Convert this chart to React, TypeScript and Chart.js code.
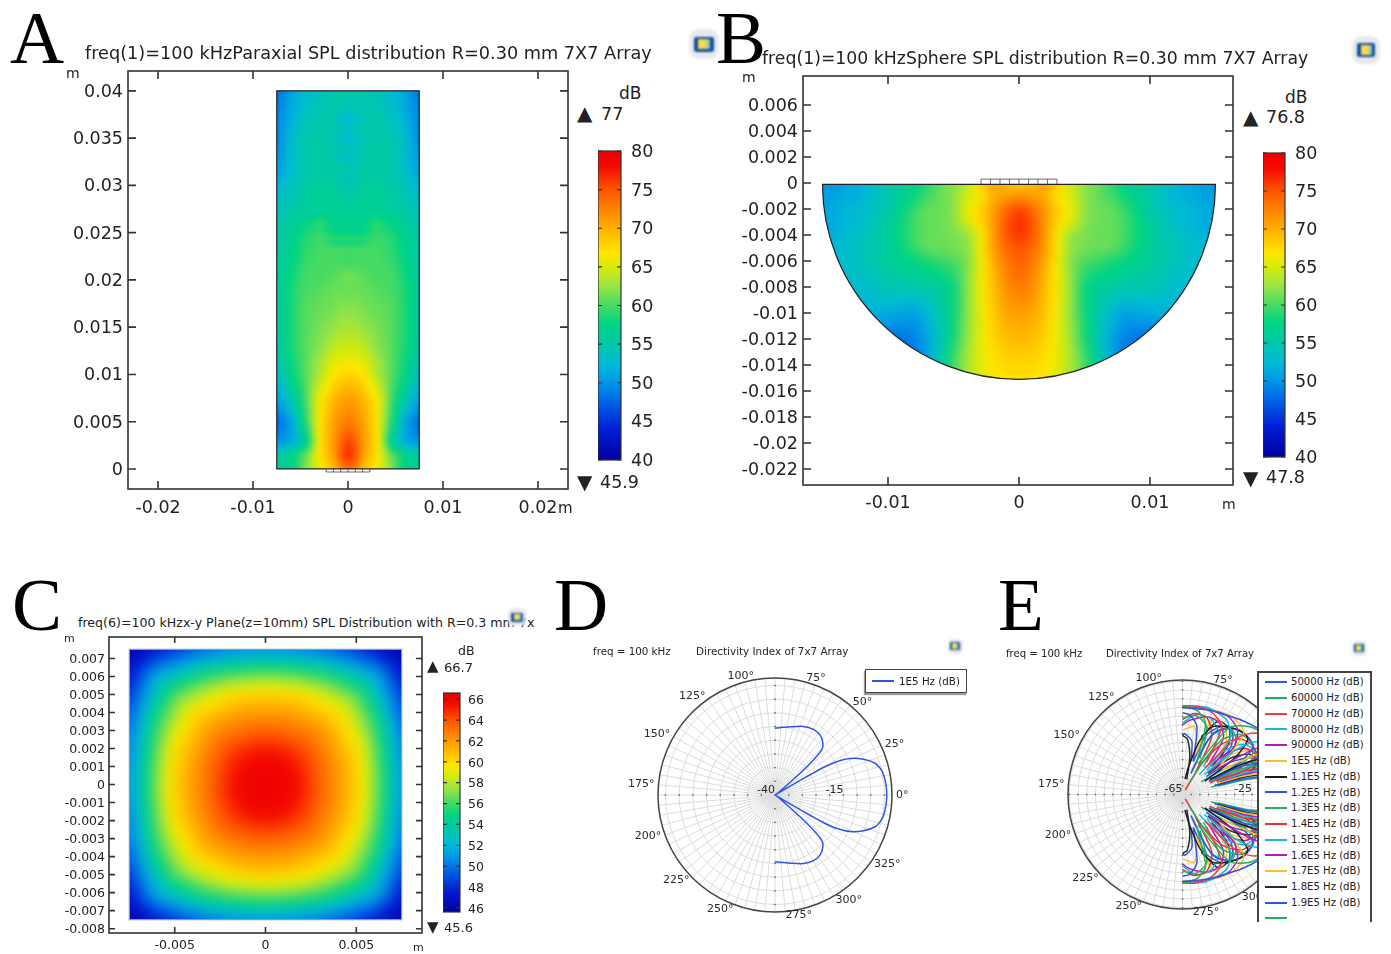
import React, { useEffect, useRef } from "react";
import { Chart, registerables } from "chart.js";
Chart.register(...registerables);

const FONT = "'DejaVu Sans'";

// ---------- colour map ----------
const cmapStops = [0, 0.1, 0.2, 0.25, 0.31, 0.375, 0.44, 0.5, 0.56, 0.625, 0.67, 0.75, 0.875, 0.95, 1];
const cmapColors = [
  [0, 0, 160], [0, 30, 215], [0, 110, 230], [0, 150, 230], [0, 185, 215], [0, 200, 170], [0, 212, 130], [70, 218, 100],
  [150, 228, 70], [215, 235, 10], [255, 230, 0], [255, 175, 0], [255, 85, 0], [245, 10, 0], [235, 0, 0],
];
function cmap(t: number) {
  const c = Math.max(0, Math.min(1, t));
  let i = 0;
  while (i < cmapStops.length - 2 && c > cmapStops[i + 1]) i++;
  const f = (c - cmapStops[i]) / (cmapStops[i + 1] - cmapStops[i]);
  return cmapColors[i].map((v, k) => v + (cmapColors[i + 1][k] - v) * f);
}

// ---------- panel A ----------
const aXTicks = [-0.02, -0.01, 0, 0.01, 0.02];
const aYTicks = [0, 0.005, 0.01, 0.015, 0.02, 0.025, 0.03, 0.035, 0.04];
const aColX = [0, 0.0008, 0.0015, 0.003, 0.0045, 0.006, 0.0075];
const aRowY = [0, 0.0015, 0.003, 0.005, 0.0075, 0.01, 0.0115, 0.013, 0.015, 0.017, 0.019, 0.0205, 0.022, 0.0235, 0.024, 0.0245, 0.025, 0.026, 0.027, 0.03, 0.031, 0.032, 0.033, 0.034, 0.035, 0.036, 0.037, 0.038, 0.04];
const aSPL = [
  [74, 72, 69, 66, 62, 57, 56],
  [77, 75, 71, 67, 61, 57, 55.5],
  [76, 74, 71.5, 67, 56, 51, 49.5],
  [73, 72, 71, 67, 59, 51, 47.5],
  [71, 70.5, 69.5, 66.5, 60, 55, 50.5],
  [68, 67.5, 67, 63.5, 60.5, 57.5, 53.5],
  [66, 65.8, 65.5, 63, 60.5, 58, 54.5],
  [64.5, 64.5, 64, 62, 60.5, 58.5, 55],
  [63, 63, 62.5, 61.5, 60.5, 58.5, 55.5],
  [62, 62, 61.5, 61, 60.5, 58.5, 55.5],
  [61, 61, 61, 60.5, 60, 58.5, 55.5],
  [61.5, 61, 60.5, 60, 60, 58, 55.5],
  [59.5, 60, 60, 60, 59.5, 57.5, 55.5],
  [60, 60, 60, 60, 59, 57, 55.5],
  [57.5, 57.5, 58, 59.5, 59, 57, 55.5],
  [59.5, 59.5, 59.5, 60, 59, 56.5, 55],
  [57, 57, 57.5, 59, 58.5, 56.5, 55],
  [57, 57, 57, 59.5, 57.5, 56, 54.5],
  [56.5, 56.5, 56.5, 56.5, 56, 55.5, 54],
  [54.5, 55, 56, 56, 55.5, 54, 52],
  [53.5, 54.5, 55.5, 55.5, 55, 53.5, 51],
  [55, 55, 55.5, 55.5, 55, 53, 50.5],
  [52.5, 53.5, 55, 55.5, 55, 53, 50],
  [54.5, 54.5, 55, 55.5, 55, 53, 49.5],
  [52, 53, 54.5, 55, 55, 53, 49],
  [54, 54.5, 55, 55, 54.5, 52.5, 49],
  [52, 53, 54.5, 55, 54, 52, 49],
  [54, 54.5, 55, 54.5, 53.5, 51.5, 49],
  [55, 55, 55, 54, 53, 51, 48],
];
const aBarTicks = [40, 45, 50, 55, 60, 65, 70, 75, 80];

// ---------- panel B ----------
const bXTicks = [-0.01, 0, 0.01];
const bYTicks = [0.006, 0.004, 0.002, 0, -0.002, -0.004, -0.006, -0.008, -0.01, -0.012, -0.014, -0.016, -0.018, -0.02, -0.022];
const bColX = [0, 0.001, 0.002, 0.003, 0.004, 0.005, 0.006, 0.007, 0.008, 0.01, 0.012, 0.015];
const bRowDepth = [0, 0.001, 0.002, 0.003, 0.004, 0.005, 0.006, 0.008, 0.01, 0.012, 0.0135, 0.0152];
const bSPL = [
  [68, 69, 71, 68, 64, 62, 61, 59, 57, 55, 52, 50],
  [72, 71, 70, 66, 65, 62, 61, 60, 58, 55, 52, 50.5],
  [76, 74, 71, 68, 66, 62, 61, 61, 59.5, 55, 53, 51],
  [77, 75, 71, 67.5, 65, 62, 61, 61, 60, 56, 53, 51],
  [76.5, 75, 71, 66, 62, 61.5, 61, 61, 60, 56, 54, 51],
  [75, 74, 71, 66, 62, 61.5, 61, 61, 59.5, 56, 54, 52],
  [74.5, 73, 70, 65.5, 61.5, 60, 59.5, 58.5, 57.5, 56, 54, 52],
  [73, 72, 69, 66, 62, 58, 56, 55.5, 55, 54.5, 53, 52],
  [71, 70.5, 68.5, 65.5, 62, 58, 55, 52.5, 50.5, 51.5, 52, 52],
  [69.5, 69, 68, 65.5, 62.5, 58.5, 54.5, 51, 49, 47.5, 50, 51],
  [68, 68, 67, 65.5, 63, 60, 55.5, 51, 48, 47.5, 50, 51],
  [67, 67, 66.5, 65.5, 63, 60, 55.5, 51, 48, 48, 50, 51],
];
const bBarTicks = [40, 45, 50, 55, 60, 65, 70, 75, 80];

// ---------- panel C ----------
const cXTicks = [-0.005, 0, 0.005];
const cYTicks = [0.007, 0.006, 0.005, 0.004, 0.003, 0.002, 0.001, 0, -0.001, -0.002, -0.003, -0.004, -0.005, -0.006, -0.007, -0.008];
const cAxis = [0, 0.001, 0.002, 0.003, 0.004, 0.005, 0.006, 0.007, 0.0075];
const cSPL = [
  [66.6, 66.3, 65.3, 63.7, 62, 60.5, 57.3, 53, 51],
  [66.3, 66, 65, 63.5, 61.9, 60.3, 57.1, 52.9, 50.8],
  [65.3, 65, 64.3, 63, 61.5, 60, 56.7, 52.5, 50.5],
  [63.7, 63.5, 63, 62.2, 60.8, 58.9, 56, 52, 50],
  [62, 61.9, 61.5, 60.8, 60, 57.7, 55, 51, 49.3],
  [60.5, 60.3, 60, 58.9, 57.7, 56.5, 53.2, 50, 48.5],
  [57.3, 57.1, 56.7, 56, 55, 53.2, 52, 48.8, 47.5],
  [53, 52.9, 52.5, 52, 51, 50, 48.8, 47.3, 46.5],
  [51, 50.8, 50.5, 50, 49.3, 48.5, 47.5, 46.5, 45.8],
];
const cBarTicks = [46, 48, 50, 52, 54, 56, 58, 60, 62, 64, 66];

// ---------- polar panels ----------
const angleLabels = [0, 25, 50, 75, 100, 125, 150, 175, 200, 225, 250, 275, 300, 325];
const spokeAngles = Array.from({ length: 72 }, (_, i) => i * 5);
const dRings = [-35, -30, -25, -20, -15, -10, -5, 0];
const eRings = [-60, -55, -50, -45, -40, -35, -30, -25, -20, -15, -10, -5, 0];

// panel D: [angle deg, dB], upper half; the lower half mirrors it
const d1E5: number[][] = [
  [90, -15.6], [77.5, -14.5], [67.5, -12.9], [59.7, -12.2], [53, -12.6], [47, -14.3], [44, -16.3], [42.4, -21], [41, -27.9], [36, -38],
  [33, -40], [31, -36.5], [30.3, -31], [30, -25.2], [29.6, -19.5], [28.4, -14.4], [26, -9.5], [22, -5.1], [17.6, -1.6], [14, -0.3], [11.3, 0.3], [5.6, 0.7], [0, 0.85],
];

// panel E: each series is a list of lobes of [angle deg, dB]
const e50k = [[[90, -15], [75, -14.5], [65, -13.5], [50, -10], [40, -7], [30, -4], [15, -1], [0, 0]]];
const e60k = [[[90, -14], [80, -16], [72, -22], [66, -45]], [[63, -45], [55, -18], [45, -10], [35, -6.5], [20, -2.5], [0, 0]]];
const e70k = [[[90, -14], [80, -13.5], [70, -15], [60, -20], [53, -42]], [[50, -45], [46, -20], [40, -10], [30, -5], [15, -1.5], [0, 0]]];
const e80k = [[[90, -15], [75, -13], [60, -15], [50, -22], [45, -45]], [[42.5, -48], [40, -25], [35, -12], [25, -5], [15, -2], [0, 0]]];
const e90k = [[[90, -14.5], [75, -14], [60, -13], [50, -16], [43, -24], [38.5, -45]], [[36, -40], [32, -15], [25, -7], [15, -2.5], [0, 0]]];
const e100k = [[[90, -15.6], [77, -14.5], [67, -13], [60, -12.2], [53, -12.5], [47, -14], [44, -16.5], [41, -28], [36, -40]], [[32, -38], [30, -27], [28, -15], [25, -9.5], [20, -3.4], [15, -0.7], [0, 0.8]]];
const e110k = [[[81, -56], [77, -47], [72, -32], [65.6, -22], [52.5, -17], [45, -15], [40, -16], [35, -28], [31, -50]], [[29, -47], [27, -28], [22, -8], [0, 0]]];
const e120k = [[[90, -18], [85, -19], [78, -25], [72, -45]], [[68, -52], [66, -35], [62, -24], [52, -17], [42, -15], [34, -16], [29, -28], [27.5, -48]], [[26.5, -45], [25, -26], [18, -6], [0, 0]]];
const e130k = [[[90, -21], [80, -19], [70, -24], [64, -42]], [[60, -58], [58, -42], [54, -26], [46, -17], [38, -15.5], [31, -17], [27, -30], [25.5, -48]], [[24.5, -45], [23, -26], [16, -6], [0, 0]]];
const e140k = [[[90, -22], [82, -18], [72, -19], [63, -28], [60, -50]], [[58.5, -62], [58, -44], [52, -28], [44, -19], [36, -16], [28, -17], [24, -32], [23, -48]], [[22, -44], [20.5, -26], [15, -7], [0, 0]]];
const e150k = [[[90, -24], [80, -18], [68, -19], [58, -26], [53, -45]], [[50, -50], [47, -32], [40, -20], [30, -16], [24, -20], [21, -38]], [[20, -44], [19, -26], [14, -7], [0, 0]]];
const e160k = [[[90, -25], [84, -22], [72, -18], [62, -19], [54, -25], [49, -42]], [[46, -42], [43, -30], [36, -20], [28, -17], [22, -22], [20, -40]], [[19, -42], [18, -26], [13, -8], [0, 0]]];
const e170k = [[[90, -28], [80, -25.5], [74, -35]], [[72, -40], [68, -18], [58, -19], [50, -26], [46, -40]], [[43, -45], [40, -30], [33, -19], [26, -17], [20, -25], [18.5, -42]], [[17.5, -44], [16.5, -26], [12, -8], [0, 0]]];
const e180k = [[[90, -31], [85, -33], [79, -43], [74, -56]], [[72, -30], [64, -18], [54, -19], [47, -27], [43, -42]], [[40, -46], [37, -30], [31, -20], [25, -18], [19, -24], [17.5, -44]], [[16.5, -44], [15.5, -26], [11, -8], [0, 0]]];
const e190k = [[[90, -31], [88, -30], [80, -34], [76, -45]], [[72, -45], [68, -28], [58, -18], [50, -20], [44, -27], [40, -44]], [[37, -48], [34, -32], [28, -20], [23, -18], [17, -26], [16, -46]], [[15, -44], [14, -26], [10, -8], [0, 0]]];
const e200k = [[[68, -50], [64, -28], [55, -18], [47, -20], [40, -28], [37, -46]], [[34, -52], [31, -34], [26, -22], [20, -19], [15, -30], [14, -48]], [[13.5, -44], [13, -26], [9, -8], [0, 0]]];

const eSeries = [e50k, e60k, e70k, e80k, e90k, e100k, e110k, e120k, e130k, e140k, e150k, e160k, e170k, e180k, e190k, e200k];
const eLegendLabels = [
  "50000 Hz (dB)", "60000 Hz (dB)", "70000 Hz (dB)", "80000 Hz (dB)", "90000 Hz (dB)", "1E5 Hz (dB)", "1.1E5 Hz (dB)", "1.2E5 Hz (dB)",
  "1.3E5 Hz (dB)", "1.4E5 Hz (dB)", "1.5E5 Hz (dB)", "1.6E5 Hz (dB)", "1.7E5 Hz (dB)", "1.8E5 Hz (dB)", "1.9E5 Hz (dB)", "",
];
const eColors = ["#2f55e6", "#25b05a", "#ee3f3f", "#12bcd8", "#bb18bb", "#ffbf2a", "#1c1c1c", "#2f55e6", "#25b05a", "#ee2f2f", "#12bcd8", "#bb18bb", "#ffbf2a", "#2a2a2a", "#2f55e6", "#25b05a"];

// ---------- helpers ----------
type Field = { xs: number[]; ys: number[]; rows: number[][]; mirrorX: boolean; mirrorY: boolean };
function bracket(a: number[], v: number) {
  if (v <= a[0]) return [0, 0, 0];
  for (let i = 0; i < a.length - 1; i++) if (v <= a[i + 1]) return [i, i + 1, (v - a[i]) / (a[i + 1] - a[i])];
  return [a.length - 1, a.length - 1, 0];
}
function sample(f: Field, x: number, y: number) {
  const [i0, i1, fx] = bracket(f.xs, f.mirrorX ? Math.abs(x) : x);
  const [j0, j1, fy] = bracket(f.ys, f.mirrorY ? Math.abs(y) : y);
  const a = f.rows[j0][i0] + (f.rows[j0][i1] - f.rows[j0][i0]) * fx;
  const b = f.rows[j1][i0] + (f.rows[j1][i1] - f.rows[j1][i0]) * fx;
  return a + (b - a) * fy;
}
const fixPad = (s: any) => {
  s.paddingLeft = s.paddingRight = s.paddingTop = s.paddingBottom = 0;
};

type Box = { l: number; t: number; r: number; b: number };
type HeatCfg = {
  frame: Box; box: Box; xMin: number; xMax: number; yMin: number; yMax: number;
  xTicks: number[]; yTicks: number[]; field: Field; vMin: number; vMax: number;
  region: { x0: number; x1: number; y0: number; y1: number }; semicircle?: number; circleY?: number;
  tickLen: number; font: number; padX: number; padY: number; outline: string; blur: number;
  transducer?: { edges: number[]; y0: number; y1: number };
};

function heatChart(canvas: HTMLCanvasElement, c: HeatCfg) {
  const plugin = {
    id: "heat",
    beforeDatasetsDraw(chart: any) {
      const ctx = chart.ctx as CanvasRenderingContext2D;
      const sx = chart.scales.x, sy = chart.scales.y;
      const L = sx.getPixelForValue(c.region.x0), R = sx.getPixelForValue(c.region.x1);
      const T = sy.getPixelForValue(c.region.y1), B = sy.getPixelForValue(c.region.y0);
      const m = 20;
      const w = Math.ceil(R - L) + 2 * m, h = Math.ceil(B - T) + 2 * m;
      const off = document.createElement("canvas");
      off.width = w; off.height = h;
      const oc = off.getContext("2d")!;
      const img = oc.createImageData(w, h);
      for (let py = 0; py < h; py++) {
        const vy = Math.min(c.region.y1, Math.max(c.region.y0, sy.getValueForPixel(T - m + py)));
        for (let px = 0; px < w; px++) {
          const vx = Math.min(c.region.x1, Math.max(c.region.x0, sx.getValueForPixel(L - m + px)));
          const col = cmap((sample(c.field, vx, vy) - c.vMin) / (c.vMax - c.vMin));
          const k = (py * w + px) * 4;
          img.data[k] = col[0]; img.data[k + 1] = col[1]; img.data[k + 2] = col[2]; img.data[k + 3] = 255;
        }
      }
      oc.putImageData(img, 0, 0);
      ctx.save();
      ctx.beginPath();
      const cyPx = c.semicircle ? sy.getPixelForValue(c.circleY) : 0;
      if (c.semicircle) {
        const cxPx = sx.getPixelForValue(0);
        const rx = sx.getPixelForValue(c.semicircle) - cxPx;
        const ry = sy.getPixelForValue(c.circleY! - c.semicircle) - cyPx;
        ctx.ellipse(cxPx, cyPx, rx, ry, 0, 0, Math.PI);
        ctx.closePath();
      } else {
        ctx.rect(L, T, R - L, B - T);
      }
      ctx.save();
      ctx.clip();
      (ctx as any).filter = `blur(${c.blur}px)`;
      ctx.drawImage(off, L - m, T - m);
      (ctx as any).filter = "none";
      ctx.restore();
      ctx.strokeStyle = c.outline;
      ctx.lineWidth = 1.2;
      ctx.stroke();
      ctx.restore();
    },
    afterDatasetsDraw(chart: any) {
      const ctx = chart.ctx as CanvasRenderingContext2D;
      const sx = chart.scales.x, sy = chart.scales.y;
      const a = chart.chartArea;
      ctx.save();
      ctx.strokeStyle = "#333";
      ctx.lineWidth = 1.6;
      ctx.strokeRect(a.left, a.top, a.right - a.left, a.bottom - a.top);
      ctx.beginPath();
      c.xTicks.forEach((v) => {
        const p = sx.getPixelForValue(v);
        ctx.moveTo(p, a.top); ctx.lineTo(p, a.top + c.tickLen);
        ctx.moveTo(p, a.bottom); ctx.lineTo(p, a.bottom - c.tickLen);
      });
      c.yTicks.forEach((v) => {
        const p = sy.getPixelForValue(v);
        ctx.moveTo(a.left, p); ctx.lineTo(a.left + c.tickLen, p);
        ctx.moveTo(a.right, p); ctx.lineTo(a.right - c.tickLen, p);
      });
      ctx.stroke();
      if (c.transducer) {
        const t = c.transducer;
        const y0 = sy.getPixelForValue(t.y0), y1 = sy.getPixelForValue(t.y1);
        ctx.lineWidth = 0.8;
        ctx.strokeStyle = "#444";
        ctx.beginPath();
        t.edges.forEach((e) => {
          const p = sx.getPixelForValue(e);
          ctx.moveTo(p, y0); ctx.lineTo(p, y1);
        });
        const a0 = sx.getPixelForValue(t.edges[0]), a1 = sx.getPixelForValue(t.edges[t.edges.length - 1]);
        ctx.moveTo(a0, y1); ctx.lineTo(a1, y1);
        ctx.stroke();
      }
      ctx.restore();
    },
  };
  const nodes: any[] = [];
  const ySign = c.semicircle ? -1 : 1;
  c.field.ys.forEach((y, j) => c.field.xs.forEach((x, i) => nodes.push({ x, y: y * ySign, v: c.field.rows[j][i] })));
  const axisCommon = (ticks: number[], pad: number, offset: number) => ({
    type: "linear",
    afterBuildTicks: (s: any) => { s.ticks = ticks.map((value) => ({ value })); },
    grid: { display: false, drawTicks: false },
    border: { display: false },
    ticks: { autoSkip: false, maxRotation: 0, padding: pad, labelOffset: offset, color: "#222", font: { family: FONT, size: c.font }, callback: (v: number) => String(v) },
  });
  return new Chart(canvas, {
    type: "scatter",
    data: { datasets: [{ data: nodes, pointRadius: 0, showLine: false }] },
    options: {
      responsive: false, animation: false, events: [],
      layout: { padding: { top: c.frame.t - c.box.t, right: c.box.r - c.frame.r, left: 0, bottom: 0 } },
      plugins: { legend: { display: false }, tooltip: { enabled: false } },
      scales: {
        x: { ...axisCommon(c.xTicks, c.padX, 0), min: c.xMin, max: c.xMax, afterFit: (s: any) => { s.height = c.box.b - c.frame.b; fixPad(s); } },
        y: { ...axisCommon(c.yTicks, c.padY, 1.5), min: c.yMin, max: c.yMax, afterFit: (s: any) => { s.width = c.frame.l - c.box.l; fixPad(s); } },
      },
    } as any,
    plugins: [plugin as any],
  });
}

type BarCfg = { left: number; width: number; top: number; bottom: number; vMin: number; vMax: number; ticks: number[]; font: number; pad: number };
function barChart(canvas: HTMLCanvasElement, c: BarCfg) {
  const labelW = 40, P = 14;
  canvas.width = c.width + labelW;
  canvas.height = c.bottom - c.top + 2 * P;
  const plugin = {
    id: "bar",
    beforeDatasetsDraw(chart: any) {
      const ctx = chart.ctx as CanvasRenderingContext2D;
      const s = chart.scales.y, a = chart.chartArea;
      const g = ctx.createLinearGradient(0, a.bottom, 0, a.top);
      cmapStops.forEach((t, i) => g.addColorStop(t, `rgb(${cmapColors[i].join(",")})`));
      ctx.fillStyle = g;
      ctx.fillRect(a.left, a.top, a.right - a.left, a.bottom - a.top);
      ctx.strokeStyle = "#333";
      ctx.lineWidth = 1.2;
      ctx.strokeRect(a.left, a.top, a.right - a.left, a.bottom - a.top);
      ctx.beginPath();
      c.ticks.forEach((v) => {
        const p = s.getPixelForValue(v);
        ctx.moveTo(a.left, p); ctx.lineTo(a.left + 4, p);
        ctx.moveTo(a.right, p); ctx.lineTo(a.right - 4, p);
      });
      ctx.stroke();
    },
  };
  return new Chart(canvas, {
    type: "scatter",
    data: { datasets: [] },
    options: {
      responsive: false, animation: false, events: [],
      layout: { padding: { top: P, bottom: P, left: 0, right: 0 } },
      plugins: { legend: { display: false }, tooltip: { enabled: false } },
      scales: {
        x: { display: false },
        y: {
          type: "linear", position: "right", min: c.vMin, max: c.vMax,
          afterBuildTicks: (s: any) => { s.ticks = c.ticks.map((value) => ({ value })); },
          afterFit: (s: any) => { s.width = labelW; fixPad(s); },
          grid: { display: false, drawTicks: false }, border: { display: false },
          ticks: { autoSkip: false, maxRotation: 0, padding: c.pad, labelOffset: 1.5, color: "#222", font: { family: FONT, size: c.font }, callback: (v: number) => String(v) },
        },
      },
    } as any,
    plugins: [plugin as any],
  });
}

const polar = (a: number, db: number, rMin: number) => ({
  x: (db - rMin) * Math.cos((a * Math.PI) / 180),
  y: (db - rMin) * Math.sin((a * Math.PI) / 180),
});
type PolarCfg = { cx: number; cy: number; R: number; rMin: number; rMax: number; rings: number[]; labels: { v: string; db: number }[]; datasets: any[] };
const POLAR_PAD = 44;
function polarChart(canvas: HTMLCanvasElement, c: PolarCfg) {
  const span = c.rMax - c.rMin;
  canvas.width = canvas.height = 2 * (c.R + POLAR_PAD);
  const plugin = {
    id: "polarGrid",
    beforeDatasetsDraw(chart: any) {
      const ctx = chart.ctx as CanvasRenderingContext2D;
      const sx = chart.scales.x, sy = chart.scales.y;
      const X = (a: number, r: number) => sx.getPixelForValue(r * Math.cos((a * Math.PI) / 180));
      const Y = (a: number, r: number) => sy.getPixelForValue(r * Math.sin((a * Math.PI) / 180));
      const ox = sx.getPixelForValue(0), oy = sy.getPixelForValue(0);
      const pxPer = sx.getPixelForValue(1) - ox;
      ctx.save();
      ctx.strokeStyle = "#dcdcdc";
      ctx.lineWidth = 1;
      ctx.beginPath();
      spokeAngles.forEach((a) => { ctx.moveTo(ox, oy); ctx.lineTo(X(a, span), Y(a, span)); });
      ctx.stroke();
      ctx.beginPath();
      c.rings.forEach((d) => { const r = (d - c.rMin) * pxPer; ctx.moveTo(ox + r, oy); ctx.arc(ox, oy, r, 0, Math.PI * 2); });
      ctx.stroke();
      ctx.fillStyle = "#555";
      c.rings.forEach((d) => {
        const r = (d - c.rMin) * pxPer;
        [[r, 0], [-r, 0], [0, r], [0, -r]].forEach(([a, b]) => ctx.fillRect(ox + a - 0.7, oy + b - 0.7, 1.4, 1.4));
      });
      ctx.strokeStyle = "#444";
      ctx.lineWidth = 1.5;
      ctx.beginPath();
      ctx.arc(ox, oy, span * pxPer, 0, Math.PI * 2);
      ctx.stroke();
      ctx.fillStyle = "#2a2a2a";
      ctx.font = `11px ${FONT}`;
      ctx.textBaseline = "middle";
      angleLabels.forEach((a) => {
        const rad = (a * Math.PI) / 180;
        ctx.textAlign = Math.cos(rad) > 0 ? "left" : "right";
        const r = span * pxPer + 4;
        ctx.fillText(`${a}°`, ox + r * Math.cos(rad), oy - r * Math.sin(rad));
      });
      ctx.textAlign = "right";
      c.labels.forEach((l) => { ctx.fillText(l.v, ox + (l.db - c.rMin) * pxPer, oy - 5); });
      ctx.restore();
    },
  };
  return new Chart(canvas, {
    type: "scatter",
    data: { datasets: c.datasets },
    options: {
      responsive: false, animation: false, events: [],
      layout: { padding: POLAR_PAD },
      plugins: { legend: { display: false }, tooltip: { enabled: false } },
      scales: { x: { display: false, min: -span, max: span }, y: { display: false, min: -span, max: span } },
    } as any,
    plugins: [plugin as any],
  });
}

// mirrors one half to make the whole line
function dData() {
  const up = d1E5.map(([a, v]) => polar(a, v, -40));
  const down = [...d1E5].reverse().map(([a, v]) => polar(-a, v, -40));
  return [...up, ...down.slice(1)];
}
function eData(lobes: number[][][]) {
  const out: any[] = [];
  const gap = { x: NaN, y: NaN };
  lobes.forEach((lobe) => {
    lobe.forEach(([a, v]) => out.push(polar(a, v, -65)));
    out.push(gap);
    lobe.forEach(([a, v]) => out.push(polar(-a, v, -65)));
    out.push(gap);
  });
  return out;
}

const T = ({ x, y, size, children, serif, color }: any) => (
  <span style={{
    position: "absolute", left: x, top: y + size * 0.09, transform: "translateY(-50%)", fontFamily: serif ? "'Liberation Serif'" : FONT,
    fontSize: size, lineHeight: 1, whiteSpace: "nowrap", color: color || "#222",
  }}>{children}</span>
);
const Icon = ({ x, y, s }: any) => (
  <div style={{ position: "absolute", left: x - s / 2, top: y - s / 2, width: s, height: s, borderRadius: s / 3, background: "#e8e8ee", filter: "blur(0.8px)" }}>
    <div style={{ position: "absolute", left: s * 0.17, top: s * 0.25, width: s * 0.66, height: s * 0.5, background: "#0b4f9e", borderRadius: s * 0.08 }}>
      <div style={{ position: "absolute", left: "22%", top: "15%", width: "58%", height: "70%", background: "linear-gradient(90deg,#ffd94a,#ffd94a 55%,#6fc0e0)" }} />
    </div>
  </div>
);
const abs = (b: any): React.CSSProperties => ({ position: "absolute", left: b.l, top: b.t });

const boxA = { l: 60, t: 63, r: 574, b: 530 };
const boxB = { l: 735, t: 68, r: 1240, b: 525 };
const boxC = { l: 50, t: 630, r: 428, b: 954 };
const barA = { left: 598, width: 23, top: 151, bottom: 460, vMin: 40, vMax: 80, ticks: aBarTicks, font: 17.5, pad: 10 };
const barB = { left: 1263, width: 22, top: 153, bottom: 457, vMin: 40, vMax: 80, ticks: bBarTicks, font: 17.5, pad: 10 };
const barC = { left: 443, width: 17, top: 693, bottom: 912, vMin: 45.6, vMax: 66.6, ticks: cBarTicks, font: 12.5, pad: 8 };
const polarD = { cx: 775, cy: 795, R: 117 };
const polarE = { cx: 1182.7, cy: 794.3, R: 114.5 };

export default function App() {
  const a = useRef<HTMLCanvasElement>(null), b = useRef<HTMLCanvasElement>(null), c = useRef<HTMLCanvasElement>(null);
  const ca = useRef<HTMLCanvasElement>(null), cb = useRef<HTMLCanvasElement>(null), cc = useRef<HTMLCanvasElement>(null);
  const d = useRef<HTMLCanvasElement>(null), e = useRef<HTMLCanvasElement>(null);

  useEffect(() => {
    document.body.style.margin = "0";
    document.body.style.background = "#fff";
    const charts = [
      heatChart(a.current!, {
        frame: { l: 128, t: 71, r: 568, b: 489 }, box: boxA, xMin: -0.02316, xMax: 0.02316, yMin: -0.00212, yMax: 0.0421,
        xTicks: aXTicks, yTicks: aYTicks, field: { xs: aColX, ys: aRowY, rows: aSPL, mirrorX: true, mirrorY: false }, vMin: 40, vMax: 80,
        region: { x0: -0.0075, x1: 0.0075, y0: 0, y1: 0.04 }, tickLen: 8, font: 17.5, padX: 9, padY: 5, outline: "#222", blur: 2.5,
        transducer: { edges: [-0.0023, -0.00153, -0.00077, 0, 0.00077, 0.00153, 0.0023], y0: 0, y1: -0.00032 },
      }),
      heatChart(b.current!, {
        frame: { l: 803, t: 76, r: 1233, b: 485 }, box: boxB, xMin: -0.01649, xMax: 0.01634, yMin: -0.02323, yMax: 0.00823,
        xTicks: bXTicks, yTicks: bYTicks, field: { xs: bColX, ys: bRowDepth, rows: bSPL, mirrorX: true, mirrorY: true }, vMin: 40, vMax: 80,
        region: { x0: -0.015, x1: 0.015, y0: -0.0153, y1: 0 }, semicircle: 0.015, circleY: -0.0001, tickLen: 8, font: 17.5, padX: 8, padY: 5, outline: "#222", blur: 4,
        transducer: { edges: [-0.0029, -0.00218, -0.00145, -0.00073, 0, 0.00073, 0.00145, 0.00218, 0.0029], y0: -0.0001, y1: 0.0003 },
      }),
      heatChart(c.current!, {
        frame: { l: 109, t: 637, r: 422, b: 933 }, box: boxC, xMin: -0.00862, xMax: 0.00862, yMin: -0.00824, yMax: 0.00819,
        xTicks: cXTicks, yTicks: cYTicks, field: { xs: cAxis, ys: cAxis, rows: cSPL, mirrorX: true, mirrorY: true }, vMin: 45.6, vMax: 66.7,
        region: { x0: -0.0075, x1: 0.0075, y0: -0.0075, y1: 0.0075 }, tickLen: 6, font: 12.5, padX: 5.5, padY: 4, outline: "#999", blur: 6,
      }),
      barChart(ca.current!, barA),
      barChart(cb.current!, barB),
      barChart(cc.current!, barC),
      polarChart(d.current!, {
        ...polarD, rMin: -40, rMax: 2.75, rings: dRings, labels: [{ v: "-40", db: -40 }, { v: "-15", db: -15 }],
        datasets: [{ label: "1E5 Hz (dB)", data: dData(), showLine: true, pointRadius: 0, borderColor: "#2f55e6", borderWidth: 1.5, tension: 0.3 }],
      }),
      polarChart(e.current!, {
        ...polarE, rMin: -65, rMax: 0.8, rings: eRings, labels: [{ v: "-65", db: -65 }, { v: "-25", db: -25 }],
        datasets: eSeries.map((s, i) => ({ label: eLegendLabels[i], data: eData(s), showLine: true, spanGaps: false, pointRadius: 0, borderColor: eColors[i], borderWidth: 1.5, tension: 0.25 })),
      }),
    ];
    return () => charts.forEach((ch) => ch.destroy());
  }, []);

  return (
    <div style={{ position: "relative", width: 1391, height: 954, overflow: "hidden", background: "#fff", filter: "blur(0.55px)" }}>
      <canvas ref={a} width={boxA.r - boxA.l} height={boxA.b - boxA.t} style={abs(boxA)} />
      <canvas ref={b} width={boxB.r - boxB.l} height={boxB.b - boxB.t} style={abs(boxB)} />
      <canvas ref={c} width={boxC.r - boxC.l} height={boxC.b - boxC.t} style={abs(boxC)} />
      <canvas ref={ca} style={{ position: "absolute", left: barA.left, top: barA.top - 14 }} />
      <canvas ref={cb} style={{ position: "absolute", left: barB.left, top: barB.top - 14 }} />
      <canvas ref={cc} style={{ position: "absolute", left: barC.left, top: barC.top - 14 }} />
      <canvas ref={d} style={{ position: "absolute", left: polarD.cx - polarD.R - POLAR_PAD, top: polarD.cy - polarD.R - POLAR_PAD }} />
      <canvas ref={e} style={{ position: "absolute", left: polarE.cx - polarE.R - POLAR_PAD, top: polarE.cy - polarE.R - POLAR_PAD }} />

      <T x={10} y={30} size={75} serif color="#000">A</T>
      <T x={716} y={30} size={75} serif color="#000">B</T>
      <T x={12} y={597} size={75} serif color="#000">C</T>
      <T x={554} y={597} size={75} serif color="#000">D</T>
      <T x={998} y={597} size={75} serif color="#000">E</T>

      <T x={85} y={52} size={17.7}>freq(1)=100 kHzParaxial SPL distribution R=0.30 mm 7X7 Array</T>
      <T x={762} y={57} size={17.3}>freq(1)=100 kHzSphere SPL distribution R=0.30 mm 7X7 Array</T>
      <T x={78} y={622} size={12.6}>freq(6)=100 kHzx-y Plane(z=10mm) SPL Distribution with R=0.3 mm 7x</T>
      <T x={593} y={650} size={10.3}>freq = 100 kHz</T>
      <T x={696} y={650} size={10.4}>Directivity Index of 7x7 Array</T>
      <T x={1006} y={653} size={10.1}>freq = 100 kHz</T>
      <T x={1106} y={653} size={10.1}>Directivity Index of 7x7 Array</T>

      <T x={66} y={72} size={14}>m</T>
      <T x={558} y={507} size={15}>m</T>
      <T x={742} y={76} size={14}>m</T>
      <T x={1222} y={503} size={14}>m</T>
      <T x={64} y={637} size={11}>m</T>
      <T x={413} y={946} size={11}>m</T>

      <T x={619} y={91} size={17}>dB</T>
      <T x={577} y={111} size={20}>▲</T>
      <T x={601} y={113} size={17.5}>77</T>
      <T x={577} y={480} size={20}>▼</T>
      <T x={600} y={481} size={17.5}>45.9</T>

      <T x={1285} y={95} size={17}>dB</T>
      <T x={1243} y={115} size={20}>▲</T>
      <T x={1266} y={116} size={17.5}>76.8</T>
      <T x={1243} y={476} size={20}>▼</T>
      <T x={1266} y={476} size={17.5}>47.8</T>

      <T x={458} y={650} size={12.5}>dB</T>
      <T x={427} y={665} size={15}>▲</T>
      <T x={444} y={666} size={13}>66.7</T>
      <T x={427} y={926} size={15}>▼</T>
      <T x={444} y={926} size={13}>45.6</T>

      <Icon x={704} y={44} s={30} />
      <Icon x={1366} y={50} s={28} />
      <Icon x={517} y={617} s={18} />
      <Icon x={955} y={646} s={15} />
      <Icon x={1359} y={648} s={15} />

      <div style={{ position: "absolute", left: 865, top: 669, width: 100, height: 22, background: "#fff", border: "1.5px solid #444", boxShadow: "-1px 2px 1px #999" }} />
      <div style={{ position: "absolute", left: 872, top: 680, width: 22, height: 2, background: "#2f55e6" }} />
      <T x={899} y={680} size={10.3}>1E5 Hz (dB)</T>

      <div style={{ position: "absolute", left: 1257, top: 671, width: 111, height: 249, background: "#fff", borderLeft: "2px solid #444", borderRight: "2px solid #444", borderTop: "2px solid #444" }} />
      {eLegendLabels.map((l, i) => (
        <React.Fragment key={i}>
          <div style={{ position: "absolute", left: 1265, top: Math.round(681 + i * 15.75), width: 22, height: 2, background: eColors[i] }} />
          {l ? <T x={1291} y={681.5 + i * 15.75} size={10.1}>{l}</T> : null}
        </React.Fragment>
      ))}
    </div>
  );
}
